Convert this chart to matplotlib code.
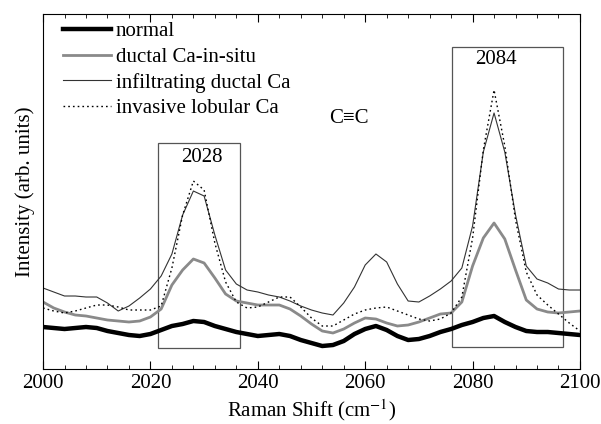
import numpy as np
import matplotlib
matplotlib.use("Agg")
import matplotlib.pyplot as plt
from matplotlib.ticker import MultipleLocator
from matplotlib.patches import Rectangle

plt.rcParams['font.family'] = ['Liberation Serif', 'DejaVu Serif']
plt.rcParams['mathtext.fontset'] = 'stix'

# Raman shift grid (cm-1), step 2
shift = np.arange(2000, 2101, 2)

# intensities (arb. units)
normal = 369 - np.array([
    327, 328, 329, 328, 327, 328, 331, 333, 335, 336, 334, 330, 326, 324, 321, 322,
    326, 329, 332, 334, 336, 335, 334, 336, 340, 343, 346, 345, 341, 334, 329, 326,
    330, 336, 340, 339, 336, 332, 329, 325, 322, 318, 316, 322, 327, 331, 332, 332,
    333, 334, 335])
ductal_insitu = 369 - np.array([
    302, 308, 312, 315, 316, 318, 320, 321, 322, 321, 317, 309, 285, 270, 259, 263,
    278, 294, 301, 303, 305, 305, 305, 309, 316, 324, 331, 333, 329, 323, 318, 319,
    323, 326, 325, 322, 318, 314, 313, 302, 266, 238, 223, 239, 270, 300, 309, 312,
    313, 312, 311])
infiltrating = 369 - np.array([
    288, 292, 296, 296, 297, 297, 303, 311, 306, 298, 289, 276, 254, 215, 191, 196,
    235, 270, 284, 290, 292, 295, 297, 301, 306, 310, 313, 315, 303, 287, 265, 254,
    262, 284, 301, 302, 296, 289, 281, 268, 226, 152, 113, 152, 215, 266, 279, 283,
    289, 290, 290])
lobular = 369 - np.array([
    308, 311, 313, 311, 308, 305, 305, 307, 310, 310, 310, 306, 268, 215, 181, 190,
    243, 282, 302, 308, 307, 302, 297, 297, 307, 318, 326, 326, 320, 314, 310, 308,
    307, 311, 315, 319, 321, 319, 313, 297, 238, 150, 90, 146, 220, 272, 295, 305,
    314, 323, 331])

labels = ['normal', 'ductal Ca-in-situ', 'infiltrating ductal Ca', 'invasive lobular Ca']

fig = plt.figure(figsize=(6.01, 4.24), dpi=100)
ax = fig.add_axes([0.0716, 0.1297, 0.8934, 0.8373])

ax.plot(shift, normal, color='black', lw=3.2, label=labels[0])
ax.plot(shift, ductal_insitu, color='#8a8a8a', lw=2.0, label=labels[1])
ax.plot(shift, infiltrating, color='#333333', lw=0.8, label=labels[2])
ax.plot(shift, lobular, color='black', lw=1.0, ls=(0, (1.2, 2.2)), label=labels[3])

# peak boxes
for x0, x1, y0, y1 in [(2021.4, 2036.7, 21, 226), (2076.2, 2096.8, 22, 322)]:
    ax.add_patch(Rectangle((x0, y0), x1 - x0, y1 - y0, fill=False,
                           edgecolor='#555555', lw=0.9))

fs = 15
ax.text(2029.5, 211, '2028', ha='center', va='center', fontsize=fs)
ax.text(2084.4, 309, '2084', ha='center', va='center', fontsize=fs)
ax.text(2057, 250, 'C\u2261C', ha='center', va='center', fontsize=fs)

ax.set_xlim(2000, 2100)
ax.set_ylim(0, 355)
ax.xaxis.set_major_locator(MultipleLocator(20))
ax.xaxis.set_minor_locator(MultipleLocator(4))
ax.tick_params(axis='x', which='both', direction='in', top=True, labelsize=fs)
ax.tick_params(axis='x', which='major', length=6)
ax.tick_params(axis='x', which='minor', length=3)
ax.set_yticks([])
ax.set_xlabel('Raman Shift (cm$^{-1}$)', fontsize=fs, labelpad=3)
ax.set_ylabel('Intensity (arb. units)', fontsize=fs, labelpad=6)

ax.legend(loc='upper left', bbox_to_anchor=(0.037, 0.978), frameon=False,
          fontsize=fs, handlelength=2.3, handletextpad=0.25, labelspacing=0.28,
          borderaxespad=0, borderpad=0)

fig.savefig('out.png', dpi=100)
